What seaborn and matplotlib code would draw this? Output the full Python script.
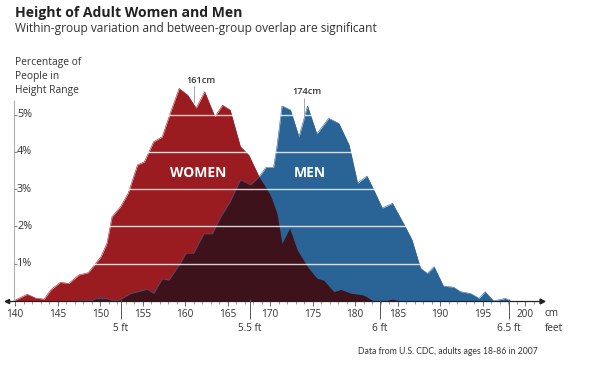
import numpy as np
import pandas as pd
import matplotlib
matplotlib.use("Agg")
import matplotlib.pyplot as plt
import seaborn as sns

# ---- data (height in cm, percentage of people) ----
women_cm = [139.8, 141.4, 142.4, 143.4, 144.2, 145.3, 146.3, 147.5, 148.6, 150.1,
            150.8, 151.4, 152.4, 153.3, 154.4, 155.2, 156.3, 157.3, 158.3, 159.3,
            160.3, 161.3, 162.3, 163.5, 164.4, 165.3, 166.5, 167.5, 168.7, 169.7,
            170.1, 170.8, 171.4, 172.3, 173.2, 174.4, 175.5, 176.3, 177.5, 178.3,
            179.5, 181.0, 182.2, 183.5, 184.4, 185.2]
women_pct = [0.0, 0.18, 0.08, 0.05, 0.30, 0.50, 0.47, 0.70, 0.76, 1.19,
             1.55, 2.26, 2.53, 2.89, 3.65, 3.73, 4.27, 4.40, 5.07, 5.70,
             5.52, 5.17, 5.61, 4.94, 5.25, 5.12, 4.14, 3.91, 3.33, 2.97,
             2.80, 2.36, 1.55, 1.95, 1.37, 0.92, 0.61, 0.56, 0.25, 0.31,
             0.21, 0.16, 0.0, 0.0, 0.05, 0.0]

men_cm = [147.0, 148.9, 149.5, 150.8, 151.5, 152.2, 153.6, 155.5, 156.3, 157.3,
          158.1, 159.5, 160.1, 161.0, 162.2, 163.2, 164.2, 165.3, 166.5, 167.7,
          168.7, 169.5, 170.4, 170.8, 171.4, 172.4, 173.4, 174.4, 175.5, 176.9,
          178.1, 179.3, 180.3, 181.4, 182.2, 183.2, 184.4, 185.7, 186.7, 187.7,
          188.5, 189.3, 190.4, 191.6, 192.4, 193.6, 194.6, 195.3, 196.3, 197.7,
          198.3]
men_pct = [0.0, 0.0, 0.06, 0.06, 0.0, 0.02, 0.20, 0.31, 0.20, 0.59,
           0.56, 1.03, 1.28, 1.28, 1.80, 1.80, 2.26, 2.66, 3.24, 3.11,
           3.33, 3.58, 3.58, 4.14, 5.23, 5.12, 4.40, 5.23, 4.48, 4.90,
           4.76, 4.18, 3.16, 3.35, 2.98, 2.49, 2.62, 2.08, 1.64, 0.88,
           0.74, 0.92, 0.40, 0.37, 0.25, 0.20, 0.07, 0.25, 0.0, 0.07,
           0.0]

cm_ticks = list(range(140, 201, 5))
ft_values = [152.4, 167.64, 182.88, 198.12]
ft_labels = ["5 ft", "5.5 ft", "6 ft", "6.5 ft"]
pct_ticks = [1, 2, 3, 4, 5]
pct_labels = ["1%", "2%", "3%", "4%", "5%"]
mean_women, mean_men = 161, 174

RED = "#9b1c20"
BLUE = "#2a6496"
DARK = "#3e121b"
TXT = "#333333"

sns.set_theme(style="white")
plt.rcParams["font.family"] = ["Open Sans", "DejaVu Sans"]

W, H = 600, 383
fig = plt.figure(figsize=(6.0, 3.83), dpi=100)
x0_cm, x1_cm = 138.8, 202.0
px_per_cm = 537 / (x1_cm - x0_cm)
ytop = 5.9
ax = fig.add_axes([5 / W, (H - 301) / H, 537 / W, ytop * 37.3 / H])
ax.set_xlim(x0_cm, x1_cm)
ax.set_ylim(0, ytop)

df_w = pd.DataFrame({"cm": women_cm, "pct": women_pct})
df_m = pd.DataFrame({"cm": men_cm, "pct": men_pct})

# fills
ax.fill_between(df_w["cm"], 0, df_w["pct"], color=RED, lw=0, zorder=1)
ax.fill_between(df_m["cm"], 0, df_m["pct"], color=BLUE, lw=0, zorder=2)
grid = np.union1d(np.linspace(139.8, 198.3, 2000), np.union1d(women_cm, men_cm))
wv = np.interp(grid, women_cm, women_pct, left=0, right=0)
mv = np.interp(grid, men_cm, men_pct, left=0, right=0)
ax.fill_between(grid, 0, np.minimum(wv, mv), color=DARK, lw=0, zorder=3)
sns.lineplot(data=df_w, x="cm", y="pct", color=RED, lw=0.4, ax=ax, zorder=1.5)
sns.lineplot(data=df_m, x="cm", y="pct", color=BLUE, lw=0.4, ax=ax, zorder=2.5)

# white gridlines over the shapes
ax.hlines(pct_ticks, 141.0, 201.0, color="white", lw=1.0, alpha=0.8, zorder=4)

# y axis line, ticks, labels
yax_x = x0_cm + 9 / px_per_cm
ax.vlines(yax_x, 0, 5.4, color="#b0b0b0", lw=0.8, zorder=5)
ax.hlines(pct_ticks, yax_x, yax_x + 3 / px_per_cm, color="#888888", lw=0.8, zorder=5)
for v, lab in zip(pct_ticks, pct_labels):
    ax.text(yax_x + 3 / px_per_cm, v, lab, ha="left", va="center",
            fontsize=7.8, color=TXT, zorder=6)

# x axis
for s in ["left", "right", "top"]:
    ax.spines[s].set_visible(False)
ax.spines["bottom"].set_color("#222222")
ax.spines["bottom"].set_linewidth(0.9)
ax.set_xticks(cm_ticks)
ax.set_xticklabels([str(t) for t in cm_ticks], fontsize=7.2, color=TXT)
ax.set_xticks(range(140, 202), minor=True)
ax.tick_params(axis="x", which="major", direction="out", length=3.5, width=0.6,
               color="#555555", pad=2.5, bottom=True)
ax.tick_params(axis="x", which="minor", direction="out", length=2, width=0.5,
               color="#777777", bottom=True)
ax.set_yticks([])
ax.set_xlabel("")
ax.set_ylabel("")
ax.plot([x1_cm], [0], marker=">", ms=3.5, color="#222222", clip_on=False, zorder=7)
ax.plot([x0_cm + 0.2], [0], marker="<", ms=3, color="#222222", clip_on=False, zorder=7)

# feet ticks and labels
ax.vlines(ft_values, -0.47, 0.06, color="#555555", lw=0.7, clip_on=False, zorder=7)
for v, lab in zip(ft_values, ft_labels):
    ax.text(v, -0.74, lab, ha="center", va="center", fontsize=7.2, color=TXT, clip_on=False)
ax.text(202.3, -0.33, "cm", ha="left", va="center", fontsize=7.2, color=TXT, clip_on=False)
ax.text(202.3, -0.74, "feet", ha="left", va="center", fontsize=7.2, color=TXT, clip_on=False)

# group labels
ax.text(161.5, 3.43, "WOMEN", ha="center", va="center", fontsize=10,
        fontweight="bold", color="white", zorder=8)
ax.text(174.7, 3.42, "MEN", ha="center", va="center", fontsize=10,
        fontweight="bold", color="white", zorder=8)

# mean markers
ax.vlines(mean_women, 5.3, 5.76, color="#999999", lw=0.6, zorder=8, clip_on=False)
ax.text(mean_women - 0.9, 5.92, f"{mean_women}cm", ha="left", va="center",
        fontsize=6.6, fontweight="semibold", color=TXT, clip_on=False)
ax.vlines(mean_men, 4.93, 5.44, color="#999999", lw=0.6, zorder=8, clip_on=False)
ax.text(mean_men - 1.4, 5.62, f"{mean_men}cm", ha="left", va="center",
        fontsize=6.6, fontweight="semibold", color=TXT, clip_on=False)

# titles and annotations
fig.text(15 / W, 1 - 12.5 / H, "Height of Adult Women and Men", ha="left", va="center",
         fontsize=10.1, fontweight="bold", color="#222222")
fig.text(15 / W, 1 - 28.5 / H, "Within-group variation and between-group overlap are significant",
         ha="left", va="center", fontsize=8.6, color=TXT)
for yy, line in zip([62, 77, 91], ["Percentage of", "People in", "Height Range"]):
    fig.text(15 / W, 1 - yy / H, line, ha="left", va="center", fontsize=7.4, color=TXT)
fig.text(538 / W, 1 - 352 / H, "Data from U.S. CDC, adults ages 18-86 in 2007",
         ha="right", va="center", fontsize=6.2, color=TXT,
         family=["Liberation Sans Narrow", "Lato", "DejaVu Sans"])

fig.savefig("out.png", dpi=100)
